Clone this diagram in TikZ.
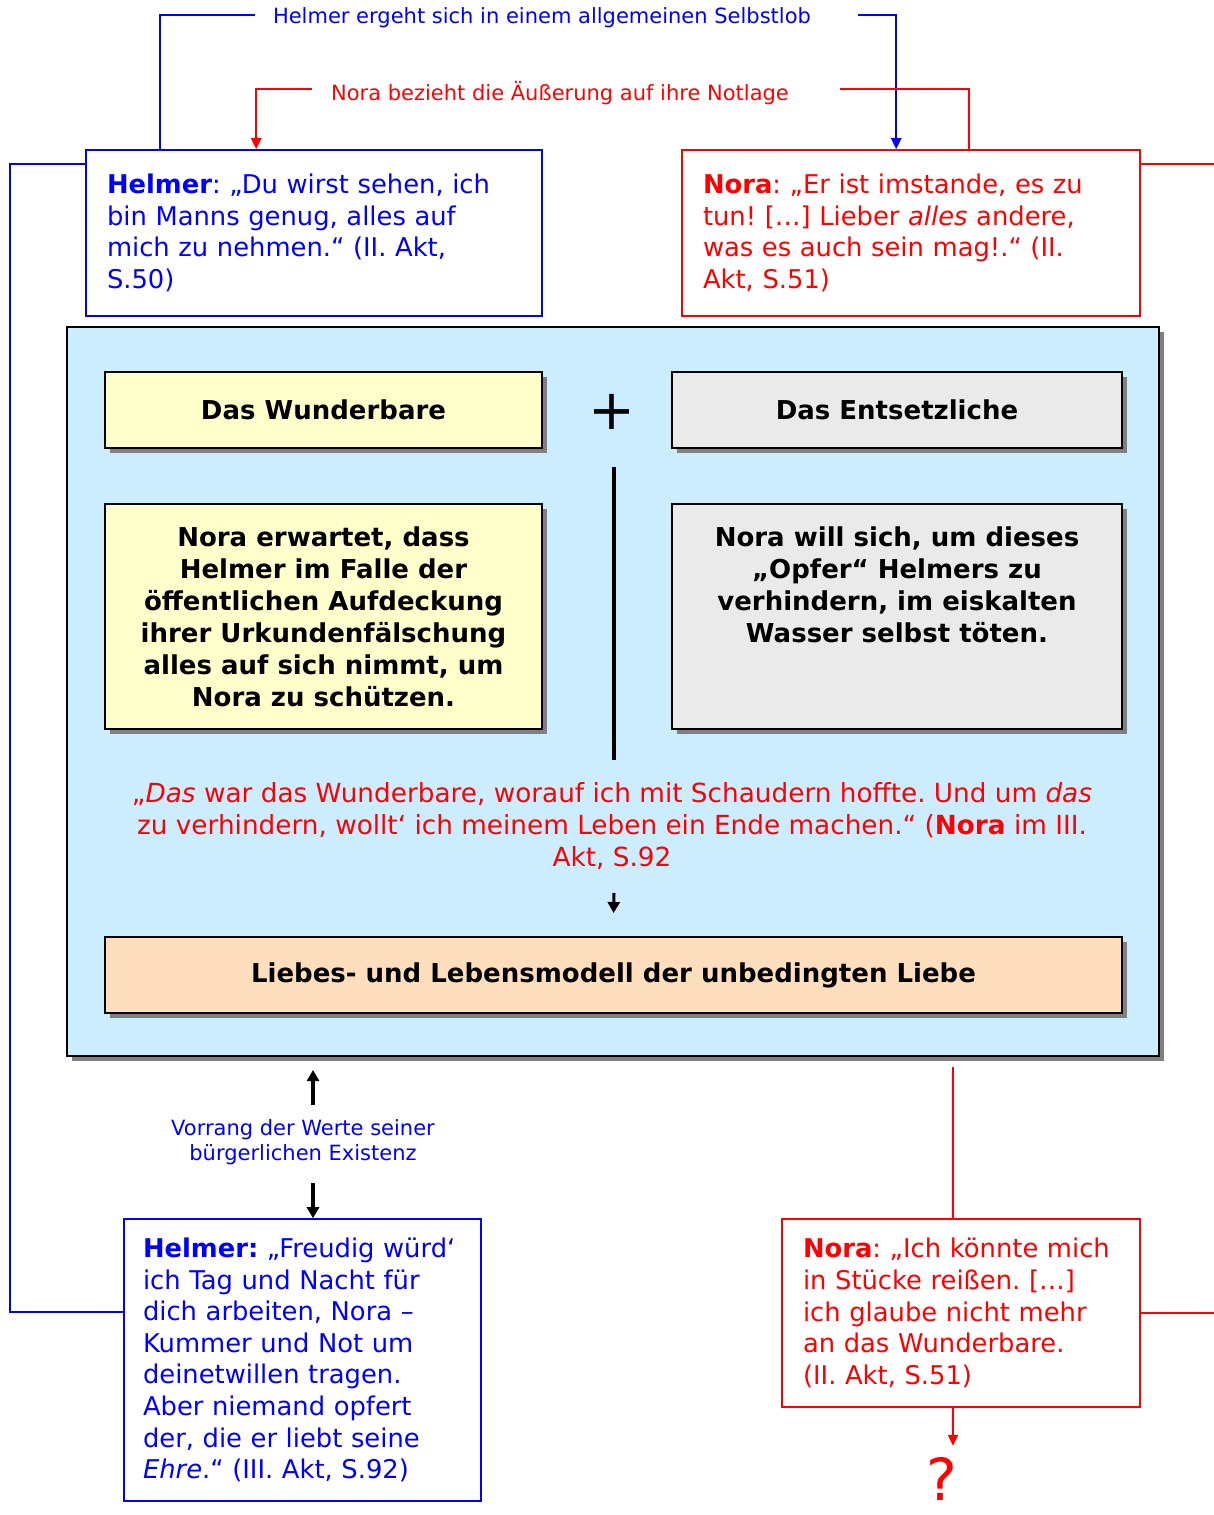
\documentclass[tikz,border=0pt]{standalone}
\usepackage{fontspec}
\setmainfont{DejaVu Sans}
\usetikzlibrary{arrows.meta,positioning,shadows,calc}
\definecolor{helmerblue}{RGB}{0,0,255}
\definecolor{norared}{RGB}{255,0,0}
\definecolor{frameblue}{RGB}{204,236,255}
\definecolor{wunderyellow}{RGB}{255,255,204}
\definecolor{entsetzgray}{RGB}{234,234,234}
\definecolor{liebepeach}{RGB}{255,222,189}
\definecolor{shadowgray}{RGB}{128,128,128}
\frenchspacing

\tikzset{
  quotebox/.style={draw,line width=1.6pt,fill=white,align=left,inner xsep=21pt,inner ysep=0pt,
    font=\fontsize{25.8}{31.6}\selectfont},
  thesisbox/.style={draw=black,line width=1.6pt,align=center,inner sep=0pt,
    font=\fontsize{26}{32}\selectfont\bfseries,
    drop shadow={fill=shadowgray,opacity=1,shadow xshift=5pt,shadow yshift=-5pt}},
  remark/.style={align=center,inner sep=0pt,font=\fontsize{21}{25}\selectfont},
  bluecon/.style={helmerblue,line width=2.2pt},
  redcon/.style={norared,line width=2.2pt},
  tip/.style={-{Triangle[width=10pt,length=11pt]}},
  blackarrow/.style={line width=3.5pt,-{Triangle[width=12pt,length=11pt]}}
}

\begin{document}
\begin{tikzpicture}[x=1pt,y=-1pt]
  \useasboundingbox (0,0) rectangle (1214,1515);

  % frame
  \node[draw=black,line width=1.8pt,fill=frameblue,minimum width=1092pt,minimum height=729pt,
    drop shadow={fill=shadowgray,opacity=1,shadow xshift=5pt,shadow yshift=-5pt}]
    (frame) at (613,691.5) {};

  % quotes
  \node[quotebox,draw=helmerblue,text=helmerblue,text width=414pt,minimum height=166pt]
    (helmerA) at (314,233)
    {\textbf{Helmer}: „Du wirst sehen, ich\\bin Manns genug, alles auf\\mich zu nehmen.“ (II. Akt,\\S.50)};
  \node[quotebox,draw=norared,text=norared,text width=416pt,minimum height=166pt]
    (noraA) at (911,233)
    {\textbf{Nora}: „Er ist imstande, es zu\\tun! […] Lieber \textit{alles} andere,\\was es auch sein mag!.“ (II.\\Akt, S.51)};
  \node[quotebox,draw=helmerblue,text=helmerblue,inner xsep=19pt,text width=319pt,minimum height=282pt]
    (helmerB) at (302.5,1360)
    {\mbox{\textbf{Helmer:} „Freudig würd‘}\\ich Tag und Nacht für\\dich arbeiten, Nora –\\Kummer und Not um\\deinetwillen tragen.\\Aber niemand opfert\\der, die er liebt seine\\\textit{Ehre}.“ (III. Akt, S.92)};
  \node[quotebox,draw=norared,text=norared,text width=316pt,minimum height=188pt]
    (noraB) at (961,1313)
    {\textbf{Nora}: „Ich könnte mich\\in Stücke reißen. […]\\ich glaube nicht mehr\\an das Wunderbare.\\(II. Akt, S.51)};

  % theses inside the frame
  \node[thesisbox,fill=wunderyellow,minimum width=437pt,minimum height=76pt]
    (wunder) at (323.5,410) {Das Wunderbare};
  \node[thesisbox,fill=entsetzgray,minimum width=450pt,minimum height=76pt]
    (entsetz) at (897,410) {Das Entsetzliche};
  \node[font=\fontsize{56}{56}\selectfont,inner sep=0pt] (plus) at (612,412) {+};
  \node[thesisbox,fill=wunderyellow,minimum width=437pt,minimum height=225pt]
    (erwartung) at (323.5,616.5)
    {Nora erwartet, dass\\Helmer im Falle der\\öffentlichen Aufdeckung\\ihrer Urkundenfälschung\\alles auf sich nimmt, um\\Nora zu schützen.};
  \node[thesisbox,fill=entsetzgray,minimum width=450pt,minimum height=225pt]
    (freitod) at (897,616.5)
    {Nora will sich, um dieses\\„Opfer“ Helmers zu\\verhindern, im eiskalten\\Wasser selbst töten.\\\mbox{}\\\mbox{}};
  \draw[line width=4pt] (614,467) -- (614,760);

  \node[align=center,inner sep=0pt,text=norared,font=\fontsize{26.3}{32}\selectfont]
    (schaudern) at (612,826)
    {„\textit{Das} war das Wunderbare, worauf ich mit Schaudern hoffte. Und um \textit{das}\\zu verhindern, wollt‘ ich meinem Leben ein Ende machen.“ (\textbf{Nora} im III.\\Akt, S.92};
  \node[thesisbox,fill=liebepeach,minimum width=1017pt,minimum height=76pt]
    (liebe) at (613.5,975) {Liebes- und Lebensmodell der unbedingten Liebe};
  \draw[blackarrow,line width=3pt] (614,893) -- (liebe.north |- 0,913);

  % remarks above
  \node[remark,text=helmerblue] (selbstlob) at (542,18)
    {Helmer ergeht sich in einem allgemeinen Selbstlob};
  \node[remark,text=norared] (notlage) at (560,93)
    {Nora bezieht die Äußerung auf ihre Notlage};
  \coordinate (lobL) at (255,15);
  \coordinate (lobR) at (858,15);
  \coordinate (notL) at (312,89);
  \coordinate (notR) at (840,89);
  \draw[bluecon] ([xshift=75pt]helmerA.north west) |- (lobL);
  \draw[bluecon,tip] (lobR) -| ([xshift=215pt]noraA.north west);
  \draw[redcon] ([xshift=288pt]noraA.north west) |- (notR);
  \draw[redcon,tip] (notL) -| ([xshift=171pt]helmerA.north west);

  % side lines
  \draw[bluecon] ([yshift=-15pt]helmerA.north west) -- ++(-75,0) |- ([yshift=-94pt]helmerB.north west);
  \draw[redcon] ([yshift=-15pt]noraA.north east) -- ++(74,0);
  \draw[redcon] (noraB.east) -- ++(74,0);

  % below the frame
  \node[remark,text=helmerblue] (vorrang) at (303,1142)
    {Vorrang der Werte seiner\\bürgerlichen Existenz};
  \coordinate (upA) at (313,1105);
  \coordinate (upB) at (313,1070);
  \coordinate (downA) at (313,1183);
  \draw[blackarrow] (upA) -- (upB);
  \draw[blackarrow] (downA) -- (helmerB.north -| downA);
  \draw[redcon] ([xshift=-8pt]noraB.north) -- ++(0,-151);
  \node[text=norared,font=\fontsize{58}{58}\selectfont,inner sep=0pt] (frage) at (942,1479) {?};
  \draw[redcon,tip] ([xshift=-8pt]noraB.south) -- ++(0,38);
\end{tikzpicture}
\end{document}
